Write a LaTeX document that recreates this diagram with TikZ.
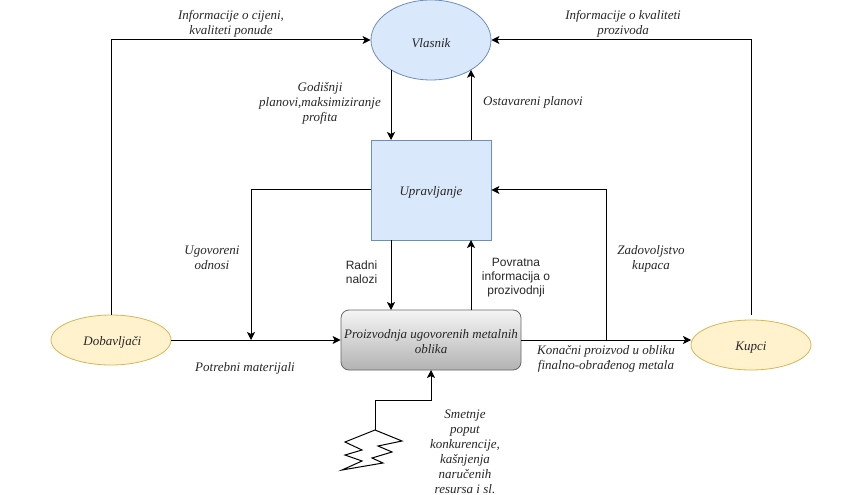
\documentclass[tikz,border=0pt]{standalone}
\usepackage{fontspec}
\setmainfont{Liberation Serif}
\newfontfamily\lblsans{Liberation Sans}
\usetikzlibrary{arrows.meta,shapes.geometric,calc}
\definecolor{bluef}{HTML}{DAE8FC}
\definecolor{blues}{HTML}{6C8EBF}
\definecolor{yelf}{HTML}{FFF2CC}
\definecolor{yels}{HTML}{D6B656}
\newcommand{\lowertxt}[1]{\raisebox{-2pt}[\height][\depth]{#1}}
\tikzset{
  lbl/.style={align=center,font=\fontsize{9.75}{11.25}\selectfont\itshape,inner sep=0pt,text=black!85},
  sanslbl/.style={align=center,font=\fontsize{9}{10.5}\selectfont\lblsans,inner sep=0pt,text=black!85},
  blueell/.style={ellipse,draw=blues,fill=bluef,minimum width=90pt,minimum height=60pt,inner sep=0pt,line width=0.6pt,lbl},
  yelell/.style={ellipse,draw=yels,fill=yelf,minimum width=90pt,minimum height=37.5pt,inner sep=0pt,line width=0.6pt,lbl},
  bluerect/.style={rectangle,draw=blues,fill=bluef,minimum width=90pt,minimum height=75pt,inner sep=0pt,line width=0.6pt,lbl},
  procbox/.style={rectangle,rounded corners=6pt,draw=black!60,top color=black!4,bottom color=black!30,middle color=black!17,minimum width=135pt,minimum height=45pt,inner sep=0pt,line width=0.6pt,lbl},
  conn/.style={draw=black,line width=0.75pt,-{Stealth[length=6pt,width=6pt,inset=1.5pt]}},
  plain/.style={draw=black,line width=0.75pt},
}
\begin{document}
\begin{tikzpicture}[x=0.75pt,y=-0.75pt]
\useasboundingbox (0,0) rectangle (862,495);
\node[blueell] (vl) at (431,40) {\lowertxt{Vlasnik}};
\node[bluerect] (up) at (431,190) {\lowertxt{Upravljanje}};
\node[procbox] (pr) at (431,340) {\lowertxt{\begin{tabular}{@{}c@{}}Proizvodnja ugovorenih metalnih\\oblika\end{tabular}}};
\node[yelell] (do) at (111,340) {\hspace*{2pt}\lowertxt{Dobavljači}};
\node[yelell] (ku) at (751,345) {\lowertxt{Kupci}};
\coordinate (vlbl) at (391,69.8);
\coordinate (vlbr) at (471,69.8);
\coordinate (upbl) at (391,140);
\coordinate (upbr) at (471,140);
\coordinate (uptl) at (391,240);
\coordinate (uptr) at (471,240);
\coordinate (prtl) at (391,310);
\coordinate (prtr) at (471,310);
\coordinate (doin) at (251,340);
\coordinate (kuin) at (691,340);
\coordinate (kutap) at (606,340);
\coordinate (kutop) at (751,315);
\coordinate (prb) at (431,370);
\coordinate (zap) at (375,430);
% lightning
\draw[plain,fill=white,line join=miter] (zap) -- (402,441) -- (378,446) -- (392,452) -- (372,458) -- (383,463) -- (342,470) -- (362,461) -- (345,455) -- (362,450) -- (345,442) -- cycle;
% connectors
\draw[conn] (do.north) -- (do.north |- vl.west) -- (vl.west);
\draw[conn] (kutop) -- (kutop |- vl.east) -- (vl.east);
\draw[conn] (vlbl) -- (upbl);
\draw[conn] (upbr) -- (vlbr);
\draw[conn] (up.west) -- (doin |- up.west) -- (doin);
\draw[conn] (do.east) -- (do.east -| pr.west);
\draw[conn] (uptl) -- (prtl);
\draw[conn] (prtr) -- (uptr);
\draw[conn] (pr.east) -- (kuin);
\draw[conn] (kutap) -- (kutap |- up.east) -- (up.east);
\draw[conn] (zap) -- (375,400) -- (431,400) -- (prb);
% labels
\node[lbl] (t1) at (231,24) {Informacije o cijeni,\\kvaliteti ponude};
\node[lbl] (t2) at (623,24) {Informacije o kvaliteti\\prozivoda};
\node[lbl] (t3) at (320,103) {Godišnji\\planovi,maksimiziranje\\profita};
\node[lbl] (t4) at (533,102) {Ostavareni planovi};
\node[lbl] (t5) at (212,258) {Ugovoreni\\odnosi};
\node[sanslbl] (t6) at (361.5,272.5) {Radni\\nalozi};
\node[sanslbl] (t7) at (516,278) {Povratna\\informacija o\\prozivodnji};
\node[lbl] (t8) at (651,259) {Zadovoljstvo\\kupaca};
\node[lbl] (t9) at (245,368) {Potrebni materijali};
\node[lbl] (t10) at (606,358.5) {Konačni proizvod u obliku\\finalno-obrađenog metala};
\node[lbl] (t11) at (465,452) {Smetnje\\poput\\konkurencije,\\kašnjenja\\naručenih\\resursa i sl.};
\end{tikzpicture}
\end{document}
